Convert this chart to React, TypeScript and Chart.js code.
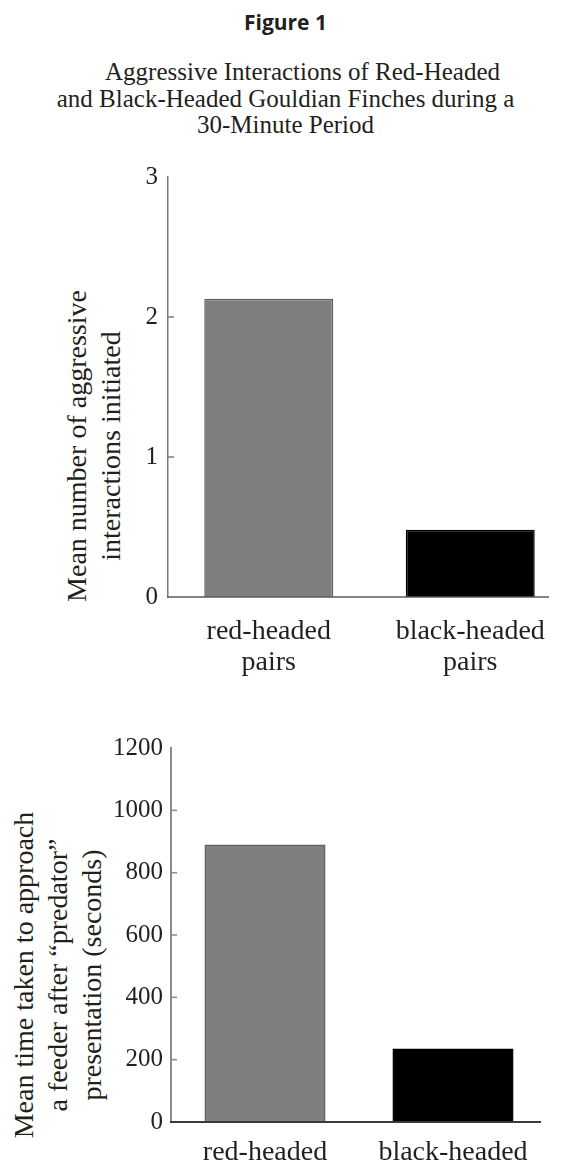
import React, { useEffect, useRef } from "react";
import { Chart, registerables } from "chart.js";

Chart.register(...registerables);

// ---------- data ----------
const aggCategories: string[][] = [["red-headed", "pairs"], ["black-headed", "pairs"]];
const aggValues: number[] = [2.13, 0.48];
const aggTicks: number[] = [0, 1, 2, 3];

const feedCategories: string[] = ["red-headed", "black-headed"];
const feedValues: number[] = [890, 236];
const feedTicks: number[] = [0, 200, 400, 600, 800, 1000, 1200];

const figureLabel = "Figure 1";
const titleLines: string[] = [
  "Aggressive Interactions of Red-Headed",
  "and Black-Headed Gouldian Finches during a",
  "30-Minute Period",
];
const aggAxisTitle: string[] = ["Mean number of aggressive", "interactions initiated"];
const feedAxisTitle: string[] = [
  "Mean time taken to approach",
  "a feeder after \u201Cpredator\u201D",
  "presentation (seconds)",
];

const barColors = ["#7f7f7f", "#000000"];
const barBorders = ["#606060", "#000000"];
const SERIF = "'Liberation Serif', 'Times New Roman', serif";
const TEXT = "#231f20";

type Cfg = {
  labels: any[];
  values: number[];
  ticks: number[];
  width: number;
  height: number;
  padTop: number;
  padRight: number;
  yWidth: number;
  xHeight: number;
  xPad: number;
  yPad: number;
  barPct: number;
  yColor: string;
  yWidthLine: number;
  xColor: string;
  xWidthLine: number;
  xTrim: number;
};

function makeAxisPlugin(cfg: Cfg) {
  return {
    id: "axisDecor",
    afterDatasetsDraw(chart: any) {
      const { ctx, chartArea, scales } = chart;
      const y = scales.y;
      ctx.save();
      // inward tick marks on the y axis
      ctx.strokeStyle = cfg.yColor;
      ctx.lineWidth = 1.5;
      cfg.ticks.forEach((v, i) => {
        if (i === 0 || i === cfg.ticks.length - 1) return;
        const py = y.getPixelForValue(v);
        ctx.beginPath();
        ctx.moveTo(chartArea.left, py);
        ctx.lineTo(chartArea.left + 6, py);
        ctx.stroke();
      });
      // x axis baseline
      ctx.strokeStyle = cfg.xColor;
      ctx.lineWidth = cfg.xWidthLine;
      const by = y.getPixelForValue(0);
      ctx.beginPath();
      ctx.moveTo(chartArea.left - cfg.yWidthLine / 2, by);
      ctx.lineTo(chartArea.right - cfg.xTrim, by);
      ctx.stroke();
      ctx.restore();
    },
  };
}

function BarChart({ cfg, style }: { cfg: Cfg; style: React.CSSProperties }) {
  const ref = useRef<HTMLCanvasElement | null>(null);
  useEffect(() => {
    if (!ref.current) return;
    const chart = new Chart(ref.current, {
      type: "bar",
      data: {
        labels: cfg.labels,
        datasets: [
          {
            data: cfg.values,
            backgroundColor: barColors,
            borderColor: barBorders,
            borderWidth: 1.5,
            categoryPercentage: 1,
            barPercentage: cfg.barPct,
          },
        ],
      },
      options: {
        animation: false,
        responsive: false,
        maintainAspectRatio: false,
        layout: { padding: { top: cfg.padTop, right: cfg.padRight, left: 0, bottom: 0 } },
        plugins: {
          legend: { display: false },
          tooltip: { enabled: false },
          title: { display: false },
        },
        scales: {
          x: {
            type: "category",
            offset: true,
            grid: { display: false, drawTicks: false },
            border: { display: false },
            ticks: {
              color: TEXT,
              font: { family: SERIF, size: 28, lineHeight: 1.08 },
              padding: cfg.xPad,
              maxRotation: 0,
              minRotation: 0,
              autoSkip: false,
            },
            afterFit: (s: any) => {
              s.height = cfg.xHeight;
            },
          },
          y: {
            min: cfg.ticks[0],
            max: cfg.ticks[cfg.ticks.length - 1],
            grid: { display: false, drawTicks: false },
            border: { display: true, color: cfg.yColor, width: cfg.yWidthLine },
            ticks: {
              color: TEXT,
              font: { family: SERIF, size: 25, lineHeight: 1.2 },
              padding: cfg.yPad,
              callback: (v: any) => String(v),
            },
            afterBuildTicks: (s: any) => {
              s.ticks = cfg.ticks.map((v) => ({ value: v }));
            },
            afterFit: (s: any) => {
              s.width = cfg.yWidth;
            },
          },
        },
      },
      plugins: [makeAxisPlugin(cfg)],
    } as any);
    return () => chart.destroy();
  }, [cfg]);
  return (
    <canvas
      ref={ref}
      width={cfg.width}
      height={cfg.height}
      style={{ position: "absolute", width: cfg.width, height: cfg.height, ...style }}
    />
  );
}

const topCfg: Cfg = {
  labels: aggCategories,
  values: aggValues,
  ticks: aggTicks,
  width: 571,
  height: 528,
  padTop: 20,
  padRight: -3,
  yWidth: 168,
  xHeight: 83,
  xPad: 20,
  yPad: 10,
  barPct: 0.64,
  yColor: "#7a7a7a",
  yWidthLine: 1.5,
  xColor: "#5a5a5a",
  xWidthLine: 1.5,
  xTrim: 22,
};

const bottomCfg: Cfg = {
  labels: feedCategories,
  values: feedValues,
  ticks: feedTicks,
  width: 571,
  height: 444,
  padTop: 20,
  padRight: 24,
  yWidth: 171,
  xHeight: 47,
  xPad: 16,
  yPad: 8,
  barPct: 0.644,
  yColor: "#8a8a8a",
  yWidthLine: 2,
  xColor: "#3a3a3a",
  xWidthLine: 2,
  xTrim: 6,
};

function RotatedTitle({
  lines,
  cx,
  cy,
  lineHeight,
  size,
}: {
  lines: string[];
  cx: number;
  cy: number;
  lineHeight: number;
  size: number;
}) {
  const W = 460;
  const H = lines.length * lineHeight;
  return (
    <div
      style={{
        position: "absolute",
        left: cx - W / 2,
        top: cy - H / 2,
        width: W,
        height: H,
        transform: "rotate(-90deg)",
        transformOrigin: "50% 50%",
        textAlign: "center",
        fontFamily: SERIF,
        fontSize: size,
        lineHeight: lineHeight + "px",
        color: TEXT,
        whiteSpace: "nowrap",
      }}
    >
      {lines.map((l, i) => (
        <div key={i}>{l}</div>
      ))}
    </div>
  );
}

export default function App() {
  return (
    <div
      style={{
        position: "absolute",
        left: 0,
        top: 0,
        width: 571,
        height: 1169,
        overflow: "hidden",
        background: "#ffffff",
      }}
    >
      <div
        style={{
          position: "absolute",
          left: 0,
          top: 8,
          width: 571,
          textAlign: "center",
          fontFamily: "'Open Sans', sans-serif",
          fontWeight: 700,
          fontSize: 21,
          lineHeight: "28px",
          color: TEXT,
        }}
      >
        {figureLabel}
      </div>
      {titleLines.map((t, i) => (
        <div
          key={i}
          style={{
            position: "absolute",
            left: 0,
            top: 59 + i * 26.5,
            width: 571,
            boxSizing: "border-box",
            paddingLeft: i === 0 ? 34 : 0,
            textAlign: "center",
            fontFamily: SERIF,
            fontSize: 25,
            lineHeight: "26.5px",
            color: TEXT,
            whiteSpace: "nowrap",
          }}
        >
          {t}
        </div>
      ))}
      <RotatedTitle lines={aggAxisTitle} cx={94} cy={446} lineHeight={34} size={28} />
      <RotatedTitle lines={feedAxisTitle} cx={58} cy={975} lineHeight={34} size={28} />
      <BarChart cfg={topCfg} style={{ left: 0, top: 152 }} />
      <BarChart cfg={bottomCfg} style={{ left: 0, top: 725 }} />
    </div>
  );
}
